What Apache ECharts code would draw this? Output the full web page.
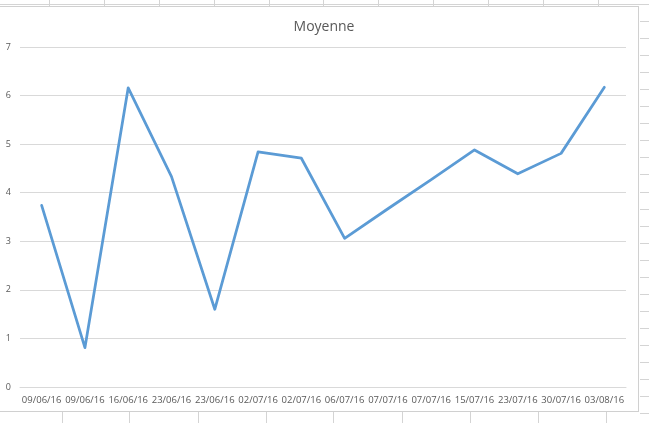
<!DOCTYPE html>
<html>
<head>
<meta charset="utf-8">
<script src="https://cdn.jsdelivr.net/npm/echarts@6/dist/echarts.min.js"></script>
<style>
html,body{margin:0;padding:0;background:#fff;overflow:hidden;}
#bg{position:absolute;left:0;top:0;width:649px;height:423px;}
.l{position:absolute;background:#d4d4d4;}
#box{position:absolute;left:-1px;top:6px;width:640px;height:406px;border:1px solid #d0d0d0;background:#fff;box-sizing:border-box;}
#chart{position:absolute;left:0;top:0;width:649px;height:423px;}
</style>
</head>
<body>
<div id="bg"></div>
<div id="box"></div>
<div id="chart"></div>
<script>
// Data
var categories = ['09/06/16','09/06/16','16/06/16','23/06/16','23/06/16','02/07/16','02/07/16','06/07/16','07/07/16','07/07/16','15/07/16','23/07/16','30/07/16','03/08/16'];
var moyenne = [3.74, 0.81, 6.16, 4.33, 1.60, 4.84, 4.71, 3.06, 3.67, 4.27, 4.88, 4.39, 4.81, 6.17];
var yTicks = [0, 1, 2, 3, 4, 5, 6, 7];

// spreadsheet background decoration
(function(){
  var bg = document.getElementById('bg');
  function add(x,y,w,h){var d=document.createElement('div');d.className='l';d.style.left=x+'px';d.style.top=y+'px';d.style.width=w+'px';d.style.height=h+'px';bg.appendChild(d);}
  add(0,4,649,1);
  var tops=[49,104,159,214,269,323,378,433,488,543,598];
  tops.forEach(function(x){add(x,0,1,6);});
  var bots=[62,129,198,266,333,402,470,538,606];
  bots.forEach(function(x){add(x,412,1,11);});
  for(var y=21;y<423;y+=17.05){add(640,Math.round(y),9,1);}
})();

var FONT = 'Open Sans, Liberation Sans, Arial, sans-serif';
var chart = echarts.init(document.getElementById('chart'), null, {renderer:'canvas'});
chart.setOption({
  backgroundColor:'transparent',
  animation:false,
  title:{
    text:'Moyenne',
    left:319, top:15, textAlign:'center',
    textStyle:{fontFamily:FONT, fontSize:14, fontWeight:'normal', color:'#595959'}
  },
  grid:{left:20, right:23, top:47, bottom:36, containLabel:false},
  xAxis:{
    type:'category',
    data:categories,
    boundaryGap:true,
    axisLine:{show:true, lineStyle:{color:'#d9d9d9', width:1}},
    axisTick:{show:false},
    axisLabel:{interval:0, fontFamily:FONT, fontSize:9.5, color:'#595959', margin:8},
    splitLine:{show:false}
  },
  yAxis:{
    type:'value',
    min:yTicks[0], max:yTicks[yTicks.length-1], interval:1,
    axisLine:{show:false},
    axisTick:{show:false},
    axisLabel:{fontFamily:FONT, fontSize:9, color:'#595959', margin:9},
    splitLine:{show:true, lineStyle:{color:'#d9d9d9', width:1}}
  },
  series:[{
    name:'Moyenne',
    type:'line',
    data:moyenne,
    showSymbol:false,
    symbol:'none',
    lineStyle:{color:'#5B9BD5', width:2.75, cap:'round', join:'round'},
    itemStyle:{color:'#5B9BD5'}
  }]
});
</script>
</body>
</html>
